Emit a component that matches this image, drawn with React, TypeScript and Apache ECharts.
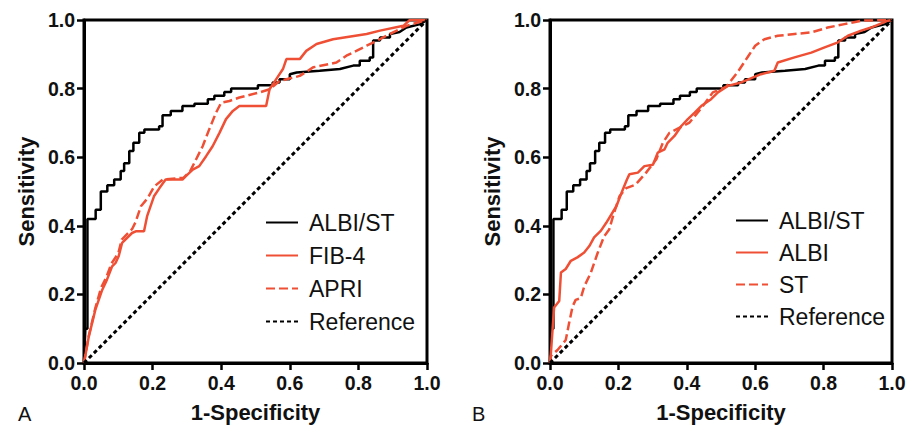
import React, { useEffect, useRef } from "react";
import * as echarts from "echarts";

const FONT = "Liberation Sans, Arial, Helvetica, sans-serif";
const RED = "#ef5035";

const albiSt: number[][] = [
  [0, 0], [0.004, 0.1], [0.01, 0.1], [0.01, 0.42], [0.034, 0.42], [0.034, 0.447], [0.049, 0.447], [0.049, 0.5],
  [0.068, 0.5], [0.068, 0.518], [0.088, 0.518], [0.088, 0.535], [0.107, 0.535], [0.107, 0.56], [0.117, 0.56],
  [0.117, 0.582], [0.132, 0.582], [0.132, 0.618], [0.144, 0.618], [0.144, 0.642], [0.161, 0.642], [0.161, 0.671],
  [0.176, 0.671], [0.176, 0.681], [0.219, 0.681], [0.219, 0.69], [0.229, 0.69], [0.229, 0.722], [0.253, 0.722],
  [0.253, 0.735], [0.287, 0.735], [0.287, 0.749], [0.322, 0.749], [0.322, 0.756], [0.361, 0.756], [0.361, 0.769],
  [0.38, 0.769], [0.38, 0.779], [0.409, 0.779], [0.409, 0.79], [0.429, 0.79], [0.429, 0.8], [0.507, 0.8],
  [0.507, 0.81], [0.55, 0.81], [0.55, 0.818], [0.57, 0.818], [0.57, 0.827], [0.6, 0.827], [0.6, 0.842],
  [0.62, 0.847], [0.687, 0.852], [0.746, 0.857], [0.785, 0.867], [0.804, 0.867], [0.804, 0.881], [0.833, 0.881],
  [0.833, 0.891], [0.843, 0.891], [0.843, 0.94], [0.863, 0.94], [0.863, 0.949], [0.892, 0.949], [0.892, 0.959],
  [0.92, 0.965], [0.94, 0.978], [0.98, 0.988], [1, 1],
];

const fib4: number[][] = [
  [0, 0], [0.014, 0.077], [0.033, 0.155], [0.053, 0.213], [0.067, 0.243], [0.082, 0.282], [0.092, 0.292],
  [0.101, 0.311], [0.111, 0.35], [0.14, 0.379], [0.151, 0.384], [0.175, 0.384], [0.184, 0.428], [0.204, 0.486],
  [0.22, 0.51], [0.238, 0.535], [0.287, 0.535], [0.297, 0.545], [0.317, 0.564], [0.336, 0.574], [0.356, 0.603],
  [0.375, 0.632], [0.395, 0.671], [0.414, 0.711], [0.434, 0.735], [0.453, 0.749], [0.531, 0.749], [0.541, 0.798],
  [0.56, 0.827], [0.58, 0.857], [0.59, 0.886], [0.629, 0.886], [0.648, 0.91], [0.678, 0.93], [0.726, 0.944],
  [0.824, 0.959], [0.863, 0.969], [0.931, 0.983], [0.95, 1], [1, 1],
];

const apri: number[][] = [
  [0, 0], [0.014, 0.08], [0.033, 0.16], [0.05, 0.22], [0.065, 0.25], [0.08, 0.29], [0.1, 0.32], [0.11, 0.36],
  [0.14, 0.39], [0.15, 0.41], [0.166, 0.457], [0.185, 0.48], [0.205, 0.515], [0.23, 0.535], [0.29, 0.54],
  [0.31, 0.56], [0.327, 0.594], [0.346, 0.632], [0.365, 0.681], [0.385, 0.73], [0.4, 0.759], [0.424, 0.764],
  [0.453, 0.774], [0.512, 0.789], [0.541, 0.798], [0.57, 0.822], [0.629, 0.837], [0.668, 0.862], [0.736, 0.876],
  [0.765, 0.896], [0.794, 0.91], [0.824, 0.925], [0.863, 0.944], [0.901, 0.964], [0.94, 0.983], [0.98, 0.995],
  [1, 1],
];

const albi: number[][] = [
  [0, 0], [0.002, 0.02], [0.012, 0.162], [0.027, 0.181], [0.032, 0.264], [0.046, 0.274], [0.061, 0.298],
  [0.08, 0.308], [0.1, 0.322], [0.115, 0.341], [0.129, 0.366], [0.149, 0.386], [0.164, 0.408], [0.194, 0.457],
  [0.213, 0.506], [0.225, 0.535], [0.232, 0.55], [0.257, 0.555], [0.276, 0.574], [0.301, 0.578], [0.315, 0.613],
  [0.335, 0.623], [0.344, 0.642], [0.364, 0.662], [0.384, 0.691], [0.403, 0.711], [0.423, 0.73], [0.442, 0.749],
  [0.471, 0.769], [0.491, 0.789], [0.52, 0.808], [0.559, 0.818], [0.617, 0.842], [0.656, 0.852], [0.666, 0.876],
  [0.715, 0.891], [0.764, 0.905], [0.803, 0.92], [0.842, 0.935], [0.871, 0.954], [0.91, 0.969], [0.939, 0.978],
  [0.988, 0.998], [1, 1],
];

const st: number[][] = [
  [0, 0], [0.002, 0.02], [0.022, 0.038], [0.046, 0.067], [0.056, 0.117], [0.066, 0.165], [0.075, 0.184],
  [0.09, 0.189], [0.1, 0.223], [0.119, 0.262], [0.139, 0.32], [0.158, 0.369], [0.173, 0.389], [0.185, 0.43],
  [0.203, 0.486], [0.223, 0.51], [0.25, 0.52], [0.281, 0.555], [0.311, 0.594], [0.33, 0.642], [0.349, 0.671],
  [0.379, 0.686], [0.408, 0.701], [0.447, 0.749], [0.476, 0.789], [0.515, 0.805], [0.55, 0.85], [0.58, 0.895],
  [0.6, 0.925], [0.627, 0.944], [0.666, 0.954], [0.715, 0.959], [0.764, 0.964], [0.812, 0.978], [0.861, 0.988],
  [0.91, 0.998], [1, 1],
];

const reference: number[][] = [[0, 0], [1, 1]];

const legendA = ["ALBI/ST", "FIB-4", "APRI", "Reference"];
const legendB = ["ALBI/ST", "ALBI", "ST", "Reference"];

function axisPair(gridIndex: number) {
  const common = {
    gridIndex,
    type: "value" as const,
    min: 0,
    max: 1,
    interval: 0.2,
    axisLine: { show: true, lineStyle: { color: "#000", width: 3 } },
    axisTick: { show: true, inside: false, length: 7, lineStyle: { color: "#000", width: 2.5 } },
    splitLine: { show: false },
    axisLabel: {
      color: "#111",
      fontFamily: FONT,
      fontWeight: "bold" as const,
      fontSize: 19.5,
      formatter: (v: number) => v.toFixed(1),
    },
    nameLocation: "middle" as const,
    nameTextStyle: { color: "#111", fontFamily: FONT, fontWeight: "bold" as const, fontSize: 22 },
  };
  return {
    x: { ...common, name: "1-Specificity", nameGap: 38, axisLabel: { ...common.axisLabel, margin: 10 } },
    y: { ...common, name: "Sensitivity", nameGap: 47, axisLabel: { ...common.axisLabel, margin: 9 } },
  };
}

function line(name: string, data: number[][], idx: number, color: string, type: any, width = 2.5) {
  return {
    name,
    type: "line",
    xAxisIndex: idx,
    yAxisIndex: idx,
    data,
    symbol: "none",
    showSymbol: false,
    silent: true,
    lineStyle: { color, width, type },
    itemStyle: { color },
  };
}

export default function App() {
  const ref = useRef<HTMLDivElement>(null);
  useEffect(() => {
    if (!ref.current) return;
    const chart = echarts.init(ref.current, undefined, { renderer: "svg" });
    const a = axisPair(0);
    const b = axisPair(1);
    const legendBase = {
      orient: "vertical" as const,
      itemWidth: 32,
      itemHeight: 14,
      selectedMode: false,
      itemStyle: { opacity: 0, color: "transparent", borderColor: "transparent", borderWidth: 0 },
      textStyle: { color: "#111", fontFamily: FONT, fontSize: 23, padding: [0, 0, 0, 6] },
    };
    chart.setOption({
      animation: false,
      backgroundColor: "#ffffff",
      grid: [
        { left: 84, top: 20, width: 343, height: 343, show: true, borderColor: "#000", borderWidth: 3, backgroundColor: "transparent" },
        { left: 550, top: 20, width: 342, height: 343, show: true, borderColor: "#000", borderWidth: 3, backgroundColor: "transparent" },
      ],
      xAxis: [a.x, b.x],
      yAxis: [a.y, b.y],
      legend: [
        { ...legendBase, data: legendA, left: 260, top: 206, itemGap: 10 },
        { ...legendBase, data: legendB, left: 730, top: 204, itemGap: 9 },
      ],
      graphic: [
        { type: "text", left: 18, top: 404, style: { text: "A", fontFamily: FONT, fontSize: 20, fill: "#111" } },
        { type: "text", left: 472, top: 404, style: { text: "B", fontFamily: FONT, fontSize: 20, fill: "#111" } },
      ],
      series: [
        line("ALBI/ST", albiSt, 0, "#000", "solid"),
        line("FIB-4", fib4, 0, RED, "solid"),
        line("APRI", apri, 0, RED, [9, 4]),
        line("Reference", reference, 0, "#000", [4, 3], 3),
        line("ALBI/ST", albiSt, 1, "#000", "solid"),
        line("ALBI", albi, 1, RED, "solid"),
        line("ST", st, 1, RED, [9, 4]),
        line("Reference", reference, 1, "#000", [4, 3], 3),
      ],
    });
    return () => chart.dispose();
  }, []);
  return <div ref={ref} style={{ position: "fixed", left: 0, top: 0, width: 911, height: 435 }} />;
}
